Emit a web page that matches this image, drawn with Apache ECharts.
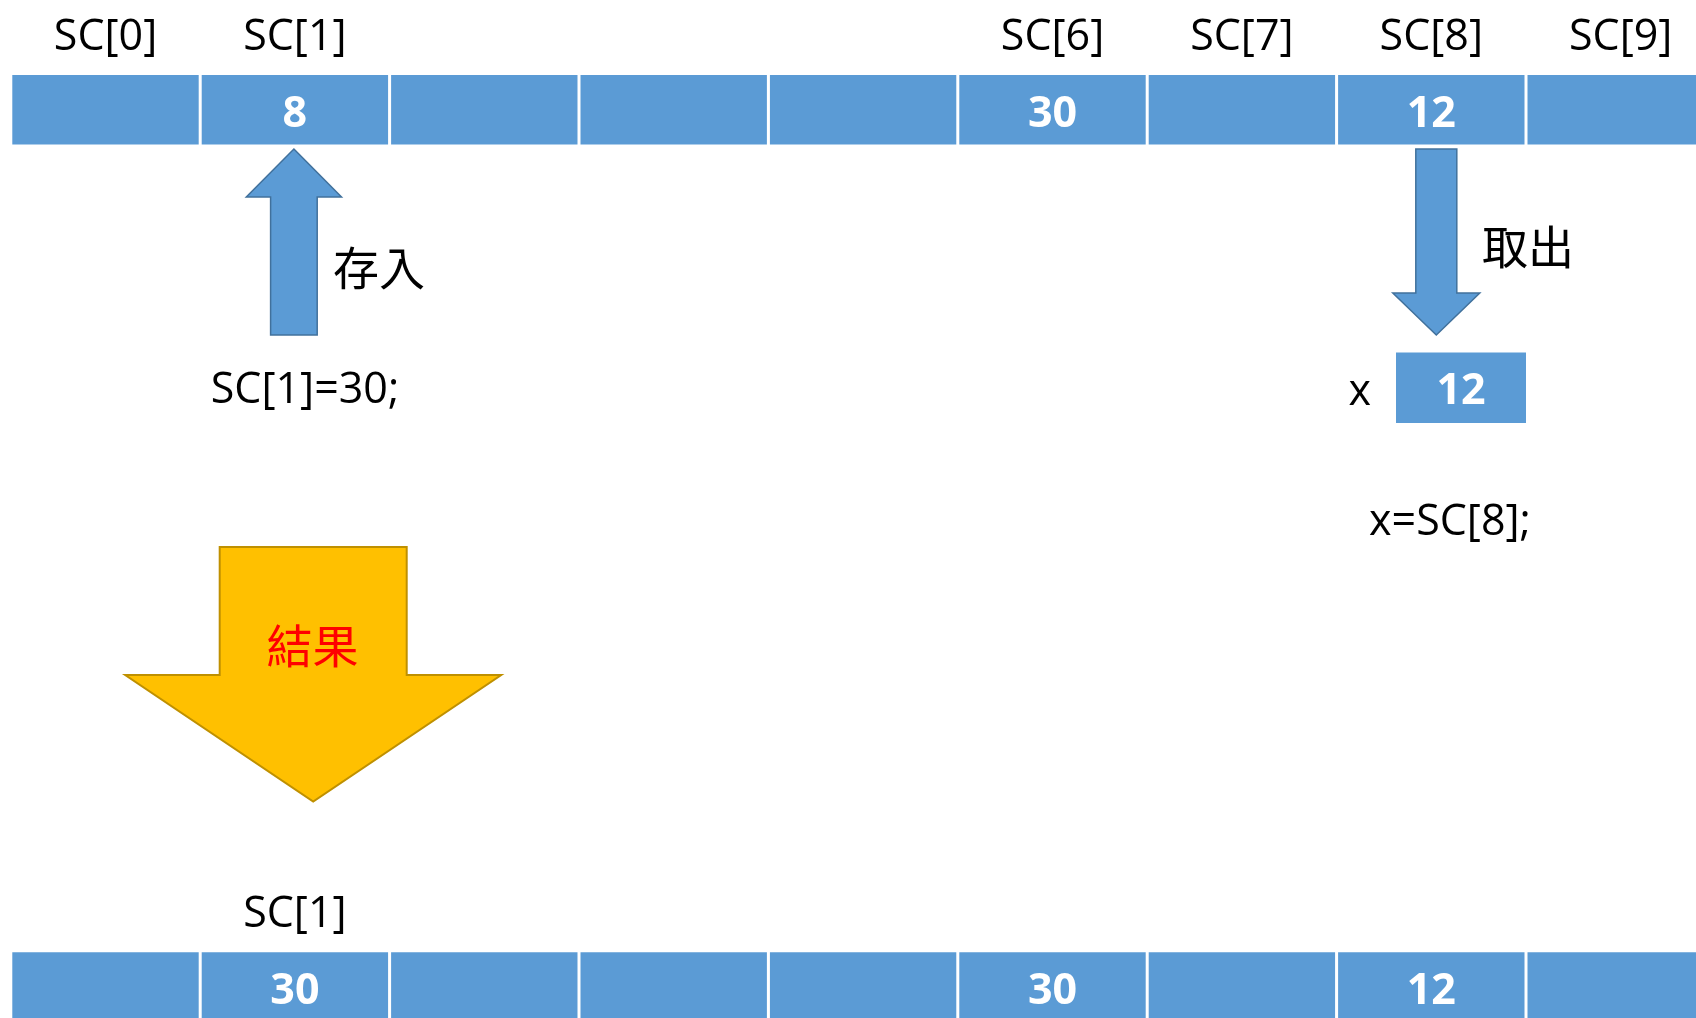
<!DOCTYPE html>
<html>
<head>
<meta charset="utf-8">
<script src="https://cdn.jsdelivr.net/npm/echarts@6/dist/echarts.min.js"></script>
<style>
  html, body { margin: 0; padding: 0; background: #ffffff; }
  #chart { width: 1696px; height: 1018px; }
</style>
</head>
<body>
<div id="chart"></div>
<script>
// ---- data ----
const cells = [0, 1, 2, 3, 4, 5, 6, 7, 8];
const topLabels = ["SC[0]", "SC[1]", "", "", "", "SC[6]", "SC[7]", "SC[8]", "SC[9]"];
const topValues = ["", "8", "", "", "", "30", "", "12", ""];
const bottomLabels = ["", "SC[1]", "", "", "", "", "", "", ""];
const bottomValues = ["", "30", "", "", "", "30", "", "12", ""];
const xBoxLabel = ["x"];
const xBoxValue = ["12"];
const cellFill = cells.map(() => 1);

const LATIN = "'Open Sans', 'Noto Sans', sans-serif";
const CJK = "'Noto Sans CJK TC', 'Noto Sans CJK SC', sans-serif";
const BLUE = "#5B9BD5";
const BLUE_EDGE = "#41719C";

const chart = echarts.init(document.getElementById('chart'), null, { renderer: 'canvas' });

function rowAxis(idx, labels) {
  return {
    type: 'category', gridIndex: idx, data: cells, position: 'top',
    boundaryGap: true,
    axisLine: { show: false }, axisTick: { show: false }, splitLine: { show: false },
    axisLabel: {
      interval: 0, margin: 14, fontSize: 43, lineHeight: 44, color: '#000',
      fontFamily: LATIN, formatter: (v, i) => labels[i],
      alignMinLabel: 'center', alignMaxLabel: 'center', hideOverlap: false
    }
  };
}
function rowSeries(idx, values) {
  return {
    type: 'bar', xAxisIndex: idx, yAxisIndex: idx, data: cellFill,
    barWidth: '100%', barGap: '0%', silent: true,
    itemStyle: { color: BLUE, borderColor: '#ffffff', borderWidth: 1.5 },
    label: {
      show: true, position: 'inside', offset: [0, 5], color: '#ffffff', fontSize: 43, fontWeight: 'bold',
      fontFamily: LATIN, formatter: p => values[p.dataIndex]
    }
  };
}

function arrowUp(cx, tipY, headY, bottomY, headHW, shaftHW) {
  return [[cx, tipY], [cx + headHW, headY], [cx + shaftHW, headY], [cx + shaftHW, bottomY],
          [cx - shaftHW, bottomY], [cx - shaftHW, headY], [cx - headHW, headY]];
}
function arrowDown(cx, topY, headY, tipY, headHW, shaftHW) {
  return [[cx - shaftHW, topY], [cx + shaftHW, topY], [cx + shaftHW, headY], [cx + headHW, headY],
          [cx, tipY], [cx - headHW, headY], [cx - shaftHW, headY]];
}

chart.setOption({
  backgroundColor: '#ffffff',
  animation: false,
  grid: [
    { left: 10.8, width: 1704.6, top: 73.5, height: 72.5, outerBoundsMode: 'none', containLabel: false },
    { left: 10.8, width: 1704.6, top: 950.7, height: 72.5, outerBoundsMode: 'none', containLabel: false },
    { left: 1396, width: 130, top: 352.6, height: 70.4, outerBoundsMode: 'none', containLabel: false }
  ],
  xAxis: [
    rowAxis(0, topLabels),
    rowAxis(1, bottomLabels),
    { type: 'value', gridIndex: 2, min: 0, max: 1, show: false }
  ],
  yAxis: [
    { type: 'value', gridIndex: 0, min: 0, max: 1, show: false },
    { type: 'value', gridIndex: 1, min: 0, max: 1, show: false },
    {
      type: 'category', gridIndex: 2, data: xBoxLabel,
      axisLine: { show: false }, axisTick: { show: false },
      axisLabel: {
        margin: 25, color: '#000',
        formatter: v => '{a|' + v + '}',
        rich: { a: { fontSize: 43, fontFamily: LATIN, color: '#000', padding: [10, 0, 0, 0] } }
      }
    }
  ],
  series: [
    rowSeries(0, topValues),
    rowSeries(1, bottomValues),
    {
      type: 'bar', xAxisIndex: 2, yAxisIndex: 2, data: [1], barWidth: '100%', silent: true,
      itemStyle: { color: BLUE },
      label: {
        show: true, position: 'inside', offset: [0, 4], color: '#ffffff', fontSize: 43, fontWeight: 'bold',
        fontFamily: LATIN, formatter: p => xBoxValue[p.dataIndex]
      }
    }
  ]
});

// decorations anchored to cell positions
const c1 = chart.convertToPixel({ xAxisIndex: 0 }, 1);
const c7 = chart.convertToPixel({ xAxisIndex: 0 }, 7);

chart.setOption({
  graphic: [
    {
      type: 'polygon', silent: true,
      shape: { points: arrowUp(c1 - 1, 149, 197, 335, 47.6, 23.3) },
      style: { fill: BLUE, stroke: BLUE_EDGE, lineWidth: 1.5 }
    },
    {
      type: 'polygon', silent: true,
      shape: { points: arrowDown(c7 + 5, 149, 293, 335, 43.5, 20.5) },
      style: { fill: BLUE, stroke: BLUE_EDGE, lineWidth: 1.5 }
    },
    {
      type: 'polygon', silent: true,
      shape: { points: arrowDown(313.2, 547, 675, 801.5, 188, 93.5) },
      style: { fill: '#FFC000', stroke: '#BF9000', lineWidth: 2 }
    },
    { type: 'text', silent: true, x: 333, y: 268,
      style: { text: '存入', fontSize: 46, fontFamily: CJK, fill: '#000', align: 'left', verticalAlign: 'middle' } },
    { type: 'text', silent: true, x: 305, y: 391,
      style: { text: 'SC[1]=30;', fontSize: 43, fontFamily: LATIN, fill: '#000', align: 'center', verticalAlign: 'middle' } },
    { type: 'text', silent: true, x: 1482, y: 247,
      style: { text: '取出', fontSize: 46, fontFamily: CJK, fill: '#000', align: 'left', verticalAlign: 'middle' } },
    { type: 'text', silent: true, x: 1450, y: 523,
      style: { text: 'x=SC[8];', fontSize: 43, fontFamily: LATIN, fill: '#000', align: 'center', verticalAlign: 'middle' } },
    { type: 'text', silent: true, x: 312.6, y: 646,
      style: { text: '結果', fontSize: 46, fontFamily: CJK, fill: '#FF0000', align: 'center', verticalAlign: 'middle' } }
  ]
});
</script>
</body>
</html>
